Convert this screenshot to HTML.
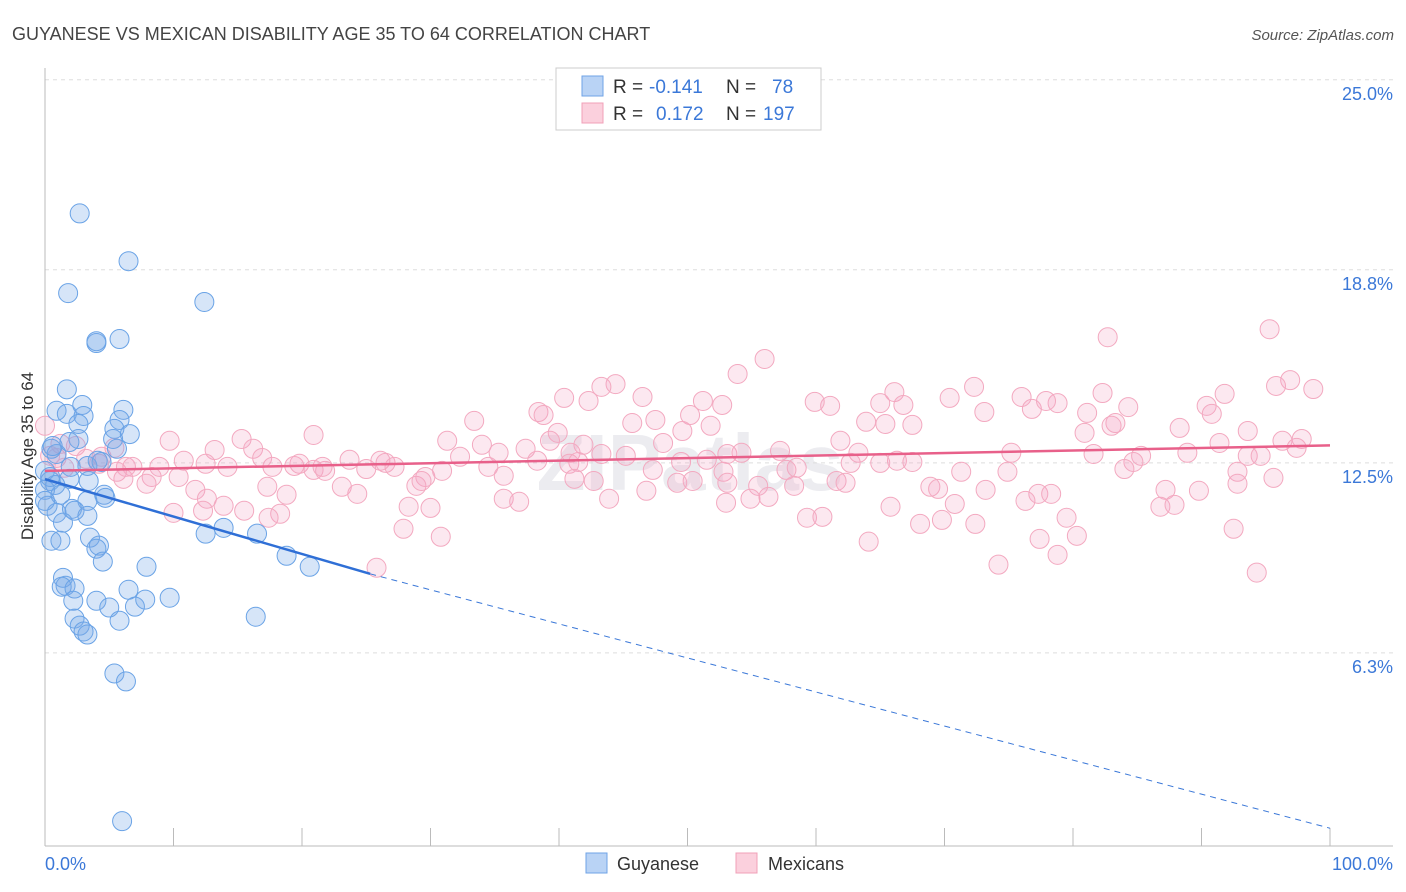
<!DOCTYPE html>
<html><head><meta charset="utf-8"><style>
body{margin:0;background:#fff;font-family:"Liberation Sans",sans-serif;}
svg{display:block}
</style></head><body>
<svg id="chart" width="1406" height="892" xmlns="http://www.w3.org/2000/svg">
<text x="12" y="40" font-size="18" fill="#444">GUYANESE VS MEXICAN DISABILITY AGE 35 TO 64 CORRELATION CHART</text>
<text x="1394" y="40" font-size="15" fill="#555" text-anchor="end" font-style="italic">Source: ZipAtlas.com</text>
<text x="690" y="490" font-size="80" fill="#ececf0" text-anchor="middle" font-weight="bold">ZIPatlas</text>
<g id="grid"></g>
<g id="yticks"></g>
<line x1="45" y1="68" x2="45" y2="846" stroke="#bbb"/>
<line x1="45" y1="846" x2="1393" y2="846" stroke="#bbb"/>
<g id="xticks"></g>
<text transform="translate(33,456) rotate(-90)" font-size="17" fill="#333" text-anchor="middle">Disability Age 35 to 64</text>
<text x="45" y="870" font-size="18" fill="#3b78d8">0.0%</text>
<text x="1393" y="870" font-size="18" fill="#3b78d8" text-anchor="end">100.0%</text>
<g id="pink"></g>
<g id="blue"></g>
<g id="trends"></g>
<g>
<rect x="556" y="68" width="265" height="62" fill="#fff" stroke="#ccc"/>
<rect x="582" y="76" width="21" height="20" fill="#b9d3f5" stroke="#6fa3e6"/>
<rect x="582" y="103" width="21" height="20" fill="#fbd0dd" stroke="#f0a0b8"/>
<text x="613" y="93" font-size="19" fill="#333">R =</text>
<text x="649" y="93" font-size="19" fill="#3b78d8">-0.141</text>
<text x="726" y="93" font-size="19" fill="#333">N =</text>
<text x="772" y="93" font-size="19" fill="#3b78d8">78</text>
<text x="613" y="120" font-size="19" fill="#333">R =</text>
<text x="656" y="120" font-size="19" fill="#3b78d8">0.172</text>
<text x="726" y="120" font-size="19" fill="#333">N =</text>
<text x="763" y="120" font-size="19" fill="#3b78d8">197</text>
</g>
<g>
<rect x="586" y="853" width="21" height="20" fill="#b9d3f5" stroke="#6fa3e6"/>
<text x="617" y="870" font-size="18" fill="#333">Guyanese</text>
<rect x="736" y="853" width="21" height="20" fill="#fbd0dd" stroke="#f0a0b8"/>
<text x="768" y="870" font-size="18" fill="#333">Mexicans</text>
</g>
</svg>
<script>
const yTicks=[6.3,12.5,18.8,25.0];
const xTickVals=[0,10,20,30,40,50,60,70,80,90,100];
const blueX=[2.7,6.5,1.8,12.4,4.0,5.8,4.0,1.7,0.9,2.9,1.7,3.0,6.1,5.8,5.4,2.6,5.3,6.6,2.6,0.9,2.0,3.3,4.4,0.4,0.8,0,1.9,3.4,4.6,4.7,3.3,0.2,0.9,2.1,2.3,3.3,1.4,0.5,1.2,3.5,4.2,4.0,4.5,7.9,1.4,1.6,1.3,2.3,2.2,4.0,6.5,5.0,7.0,7.8,9.7,2.3,2.7,3.0,3.3,5.8,16.4,5.4,6.3,6.0,12.5,16.5,18.8,20.6,13.9,0.5,0,0.4,0,1.2,0.6,5.6,4.1,1.9];
const blueY=[20.64,19.08,18.04,17.75,16.41,16.54,16.47,14.9,14.2,14.39,14.1,14.03,14.23,13.9,13.61,13.77,13.28,13.44,13.28,12.79,12.37,12.4,12.53,11.91,11.78,11.62,11.98,11.91,11.46,11.36,11.26,11.1,10.87,11.0,10.94,10.77,10.55,9.96,9.96,10.06,9.8,9.7,9.28,9.11,8.75,8.49,8.46,8.4,8.0,8.0,8.36,7.78,7.81,8.04,8.1,7.42,7.19,7.0,6.9,7.35,7.48,5.63,5.37,0.81,10.19,10.19,9.47,9.11,10.38,12.96,12.24,12.04,11.26,11.46,13.05,12.96,12.57,13.18];
const pinkX=[82.7,95.3,56.0,53.9,96.9,95.8,98.7,91.8,44.4,43.3,82.3,72.3,66.1,76.0,70.4,90.4,90.8,78.8,46.5,40.4,42.3,51.2,52.7,61.1,59.9,65.0,66.8,84.3,76.8,77.9,38.4,38.8,33.4,47.5,50.2,45.7,73.1,63.9,65.4,67.5,81.1,83.3,88.3,80.9,93.6,51.8,49.6,39.9,9.7,15.3,20.9,31.3,34.0,37.4,39.3,41.9,48.1,57.2,61.9,63.3,91.4,96.3,97.8,97.4,93.6,94.6,88.9,85.3,81.6,75.2,53.1,51.5,54.2,43.3,45.2,40.9,40.8,35.3,32.3,26.1,26.5,23.7,19.8,20.9,21.8,13.2,16.2,16.9,6.3,6.8,8.9,10.8,12.5,14.2,17.7,19.4,21.6,25.0,27.2,29.6,30.9,34.5,38.3,41.5,47.3,49.5,52.8,58.5,65.0,66.3,62.7,67.5,71.3,74.9,84.7,84.0,92.8,8.3,10.4,5.6,0.9,1.2,2.4,3.2,4.2,1.5,4.4,5.4,6.1,7.9,11.7,17.3,18.8,23.1,24.3,28.9,29.3,35.7,41.2,42.7,49.2,50.4,46.8,53.1,55.5,57.7,58.3,61.6,62.3,68.9,69.5,73.2,77.3,78.3,87.2,89.8,92.8,95.6,12.6,13.9,15.5,10.0,12.3,18.3,17.4,28.3,30.0,35.7,36.9,43.9,53.0,54.9,56.3,65.8,70.8,76.3,79.5,86.8,87.9,59.3,60.5,68.1,69.8,72.4,27.9,30.8,64.1,77.4,80.3,92.5,78.8,74.2,94.3,25.8,83.0,0,0.4];
const pinkY=[16.60,16.86,15.89,15.40,15.20,15.01,14.91,14.75,15.07,14.98,14.78,14.98,14.81,14.65,14.62,14.36,14.10,14.45,14.65,14.62,14.52,14.52,14.39,14.36,14.49,14.45,14.39,14.32,14.26,14.52,14.16,14.06,13.87,13.90,14.06,13.80,14.16,13.84,13.77,13.74,14.13,13.80,13.64,13.48,13.54,13.71,13.54,13.48,13.22,13.28,13.41,13.22,13.09,12.96,13.22,13.09,13.15,12.89,13.22,12.83,13.15,13.22,13.28,12.99,12.73,12.73,12.83,12.73,12.79,12.83,12.79,12.60,12.83,12.79,12.73,12.83,12.47,12.83,12.70,12.57,12.50,12.60,12.47,12.27,12.24,12.92,12.96,12.66,12.37,12.37,12.37,12.57,12.47,12.37,12.37,12.40,12.37,12.30,12.37,12.04,12.24,12.37,12.57,12.53,12.27,12.53,12.21,12.34,12.50,12.57,12.50,12.53,12.21,12.21,12.53,12.30,12.21,12.04,12.04,12.21,12.66,13.12,13.05,12.63,12.47,12.34,12.70,12.99,11.98,11.82,11.62,11.72,11.46,11.72,11.49,11.75,11.91,12.08,11.98,11.91,11.85,11.91,11.59,11.85,11.75,12.27,11.75,11.91,11.85,11.72,11.65,11.62,11.49,11.49,11.62,11.59,11.82,12.01,11.33,11.10,10.94,10.87,10.94,10.84,10.71,11.07,11.03,11.33,11.23,11.33,11.20,11.33,11.39,11.07,11.16,11.26,10.71,11.07,11.13,10.71,10.74,10.51,10.64,10.51,10.35,10.09,9.93,10.02,10.12,10.35,9.50,9.18,8.92,9.08,13.71,13.71,12.73];
const blueTrend=[[0,11.97],[25.3,8.88]];
const blueTrendExt=[[25.3,8.88],[100,0.58]];
const pinkTrend=[[0,12.24],[100,13.07]];

const NS="http://www.w3.org/2000/svg";
const xs=v=>45+v*12.85;
const ys=v=>846-v*30.65;
function mk(tag,attrs,parent){const e=document.createElementNS(NS,tag);for(const k in attrs)e.setAttribute(k,attrs[k]);parent.appendChild(e);return e;}
const grid=document.getElementById('grid'),yt=document.getElementById('yticks'),xt=document.getElementById('xticks');
yTicks.forEach(t=>{
  const l=mk('line',{x1:45,x2:1393,y1:ys(t),y2:ys(t),stroke:'#ddd','stroke-dasharray':'4,4'},grid);
  
  
  const tx=mk('text',{x:1393,y:ys(t)+20,'font-size':18,fill:'#3b78d8','text-anchor':'end'},yt);
  
  
  tx.textContent=t.toFixed(1)+'%';
});
xTickVals.forEach(t=>{
  const l=mk('line',{x1:xs(t),x2:xs(t),y1:828,y2:846,stroke:'#bbb'},xt);
  
  
});
const pg=document.getElementById('pink');
pinkX.forEach((x,i)=>{
  const c=mk('circle',{cx:xs(x),cy:ys(pinkY[i]),r:9.5,fill:'rgba(245,165,195,0.25)',stroke:'#f3a9c0','stroke-width':1},pg);
  
  
});
const bg=document.getElementById('blue');
blueX.forEach((x,i)=>{
  const c=mk('circle',{cx:xs(x),cy:ys(blueY[i]),r:9.5,fill:'rgba(120,170,232,0.3)',stroke:'#6aa3e6','stroke-width':1},bg);
  
  
});
const tg=document.getElementById('trends');
let l=mk('line',{x1:xs(blueTrendExt[0][0]),y1:ys(blueTrendExt[0][1]),x2:xs(blueTrendExt[1][0]),y2:ys(blueTrendExt[1][1]),stroke:'#3b78d8','stroke-width':1,'stroke-dasharray':'6,5'},tg);


l=mk('line',{x1:xs(blueTrend[0][0]),y1:ys(blueTrend[0][1]),x2:xs(blueTrend[1][0]),y2:ys(blueTrend[1][1]),stroke:'#2f6fd6','stroke-width':2.5},tg);


l=mk('line',{x1:xs(pinkTrend[0][0]),y1:ys(pinkTrend[0][1]),x2:xs(pinkTrend[1][0]),y2:ys(pinkTrend[1][1]),stroke:'#e8608a','stroke-width':2.5},tg);


</script>
</body></html>
